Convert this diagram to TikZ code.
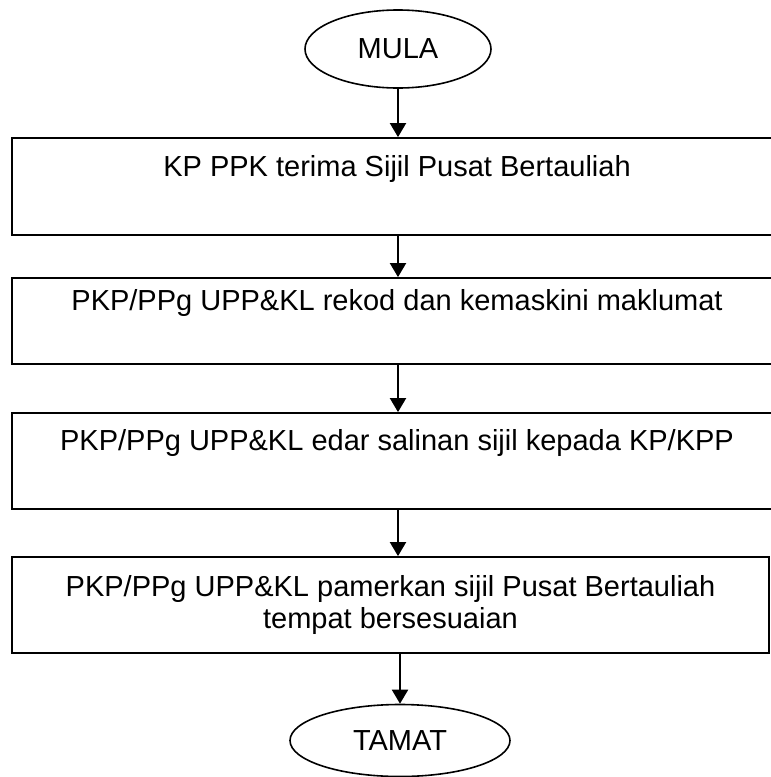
\documentclass[tikz,border=0pt]{standalone}
\usepackage{fontspec}
\setmainfont{Liberation Sans}
\usetikzlibrary{arrows.meta,shapes.geometric,positioning}

\begin{document}
\begin{tikzpicture}[
    x=0.5pt, y=-0.5pt,
    every node/.style={font=\fontsize{14.5}{16}\selectfont},
    terminal/.style={ellipse, draw, line width=0.8pt, inner sep=0pt},
    process/.style={rectangle, draw, line width=0.9pt, align=center, inner sep=0pt},
    flow/.style={->, line width=1pt, >={Triangle[width=8pt,length=7pt]}}
]
\useasboundingbox (0,0) rectangle (771,777);
\clip (0,0) rectangle (771,777);

% Start
\node[terminal, minimum width=93pt, minimum height=39pt] (mula) at (398,49) {MULA};

% Steps
\node[process, minimum width=385pt, minimum height=48.5pt] (terima) at (397,186.5)
    {KP PPK terima Sijil Pusat Bertauliah\\ \strut};
\node[process, minimum width=385pt, minimum height=43pt] (rekod) at (397,321)
    {PKP/PPg UPP\&KL rekod dan kemaskini maklumat\\ \strut};
\node[process, minimum width=385pt, minimum height=48pt] (edar) at (397,461)
    {PKP/PPg UPP\&KL edar salinan sijil kepada KP/KPP\\ \strut};
\node[process, minimum width=378.5pt, minimum height=48pt] (pamer) at (390.5,605)
    {PKP/PPg UPP\&KL pamerkan sijil Pusat Bertauliah\\ tempat bersesuaian};

% End
\node[terminal, minimum width=110pt, minimum height=36pt] (tamat) at (400,740.5) {TAMAT};

% Connectors
\draw[flow] (mula.south) -- (terima.north -| mula);
\draw[flow] (terima.south -| mula) -- (rekod.north -| mula);
\draw[flow] (rekod.south -| mula) -- (edar.north -| mula);
\draw[flow] (edar.south -| mula) -- (pamer.north -| mula);
\draw[flow] (pamer.south -| tamat) -- (tamat.north);

\end{tikzpicture}
\end{document}
